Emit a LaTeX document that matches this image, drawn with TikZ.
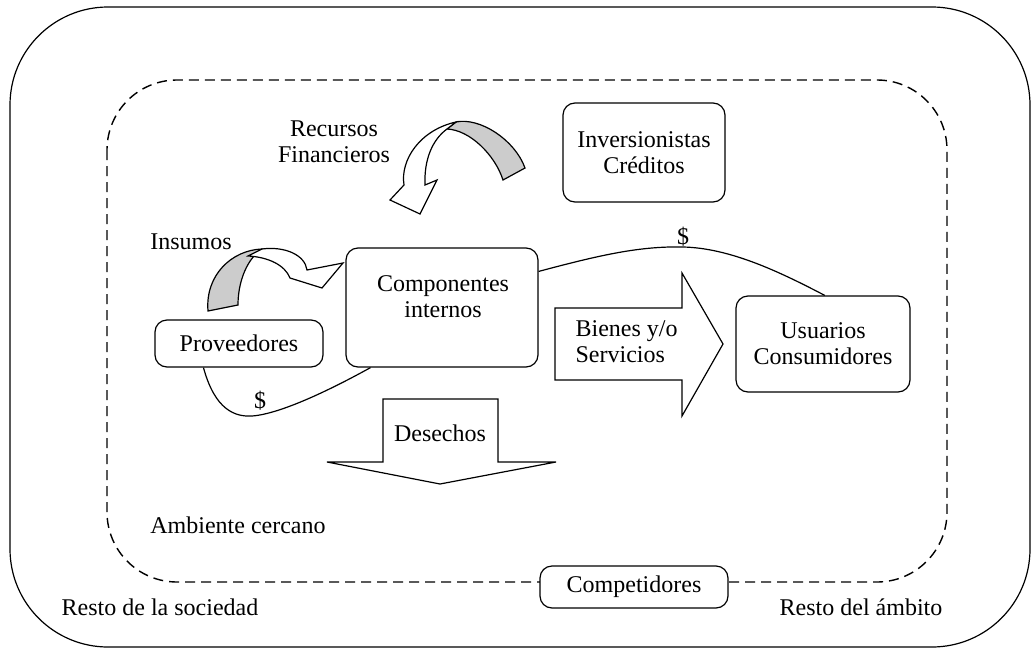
\documentclass[tikz,border=0pt]{standalone}
\usepackage{fontspec}
\setmainfont{Liberation Serif}
\usetikzlibrary{calc,positioning}
\definecolor{sombra}{gray}{0.8}

\begin{document}
\begin{tikzpicture}[x=1pt,y=-1pt,line width=1.2pt,
        texto/.style={font=\fontsize{24}{26}\selectfont,align=center,inner sep=0pt},
        caja/.style={draw,rounded corners=12pt,fill=white,texto},
        flecha/.style={draw,fill=white,line join=miter,texto}]
        \useasboundingbox (0,0) rectangle (1033,653);
        \draw[rounded corners=98pt] (10,7) rectangle (1030,647);
        \draw[dash pattern=on 10pt off 6pt,line width=1.4pt,rounded corners=70pt] (107,80) rectangle (947,582);
        \node[caja,minimum width=162pt,minimum height=99pt] (inver) at (644,152.5) {Inversionistas\\Créditos};
        \node[caja,minimum width=192pt,minimum height=119pt] (comp) at (442,307.5) {};
        \node[texto] (comptxt) at (443,297) {Componentes\\internos};
        \node[caja,minimum width=168pt,minimum height=47pt] (prov) at (239,343.5) {Proveedores};
        \node[caja,minimum width=174pt,minimum height=96pt] (usu) at (823,344) {Usuarios\\Consumidores};
        \node[caja,minimum width=188pt,minimum height=42pt] (comp2) at (634,587) {Competidores};
        \draw[flecha] (555,308) -- (682,308) -- (682,273) -- (723,344) -- (682,416) -- (682,380) -- (555,380) -- cycle;
        \node[texto,align=left,anchor=west] (bienes) at (575,342) {Bienes y/o\\Servicios};
        \draw[flecha] (383,399) -- (498,399) -- (498,462) -- (556,462) -- (440,484) -- (327,462) -- (383,462) -- cycle;
        \node[texto] (desechos) at (440,433) {Desechos};
        \draw ($(prov.south west)!.29!(prov.south east)$) .. controls (215,410) and (235,417) .. (252,416)
              .. controls (280,414) and (330,390) .. ($(comp.south west)!.13!(comp.south east)$);
        \node[texto] (pesos1) at (260,401) {\$};
        \draw ($(comp.north east)!.2!(comp.south east)$) .. controls (600,255) and (640,246) .. (683,247)
              .. controls (730,248) and (780,272) .. ($(usu.north west)!.51!(usu.north east)$);
        \node[texto] (pesos2) at (683,237) {\$};
        \draw[fill=sombra] (208,311) .. controls (205,275) and (232,250) .. (262,249) .. controls (248,258) and (238,280) .. (238,305) -- cycle;
        \draw[fill=white] (262,249) .. controls (285,246) and (305,255) .. (307,270) -- (343,263) -- (322,288) -- (290,278)
              .. controls (285,265) and (268,257) .. (248,256) -- cycle;
        \draw[fill=sombra] (525,168) .. controls (515,140) and (480,117) .. (456,122) -- (447,129) .. controls (470,130) and (495,155) .. (503,180) -- cycle;
        \draw[fill=white] (456,122) .. controls (420,130) and (400,160) .. (404,185) -- (390,200) -- (420,214) -- (437,180) -- (425,185)
              .. controls (424,160) and (432,140) .. (447,129) -- cycle;
        \node[texto] (recursos) at (334,142) {Recursos\\Financieros};
        \node[texto] (insumos) at (191,242) {Insumos};
        \node[texto] (ambiente) at (238,525) {Ambiente cercano};
        \node[texto] (sociedad) at (160,607) {Resto de la sociedad};
        \node[texto] (resto) at (861,607) {Resto del ámbito};
\end{tikzpicture}
\end{document}
